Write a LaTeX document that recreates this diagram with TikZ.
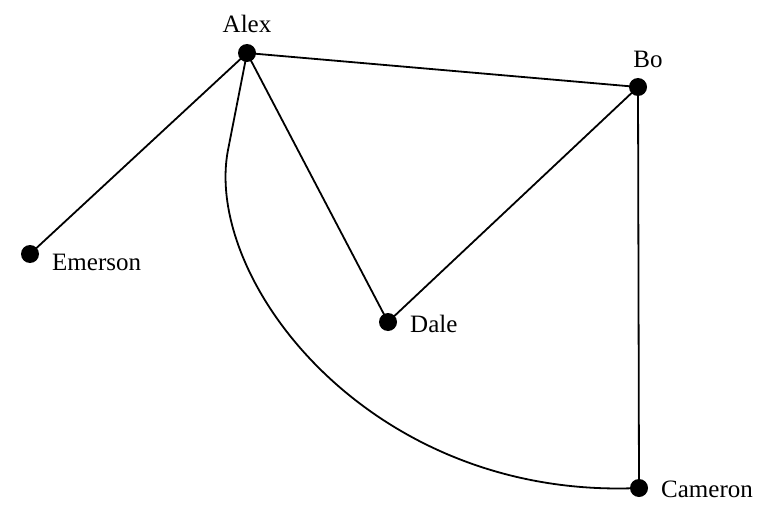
\documentclass[tikz,border=0pt]{standalone}
\usepackage{fontspec}
\setmainfont{Liberation Serif}
\begin{document}
\begin{tikzpicture}[x=1pt,y=-1pt,
  vtx/.style={circle,fill=black,inner sep=0pt,minimum size=18pt},
  lbl/.style={font=\fontsize{25}{28}\selectfont,inner sep=0pt},
  edge/.style={line width=1.8pt}]
\useasboundingbox (0,0) rectangle (771,519);
\node[vtx] (A) at (247,53) {};
\node[vtx] (B) at (638,87) {};
\node[vtx] (E) at (30,254) {};
\node[vtx] (D) at (388,322) {};
\node[vtx] (C) at (639,488) {};
\node[lbl] (lA) at (247,24) {Alex};
\node[lbl] (lB) at (648,59) {Bo};
\node[lbl,anchor=west] (lE) at (52,262) {Emerson};
\node[lbl,anchor=west] (lD) at (410,324) {Dale};
\node[lbl,anchor=west] (lC) at (661,489) {Cameron};
\coordinate (k) at (228,150);
\draw[edge] (A.center) -- (B.center) -- (C.center);
\draw[edge] (A.center) -- (E.center);
\draw[edge] (A.center) -- (D.center) -- (B.center);
\draw[edge] (A.center) -- (k) .. controls (203,280) and (370,500) .. (C.center);
\end{tikzpicture}
\end{document}
